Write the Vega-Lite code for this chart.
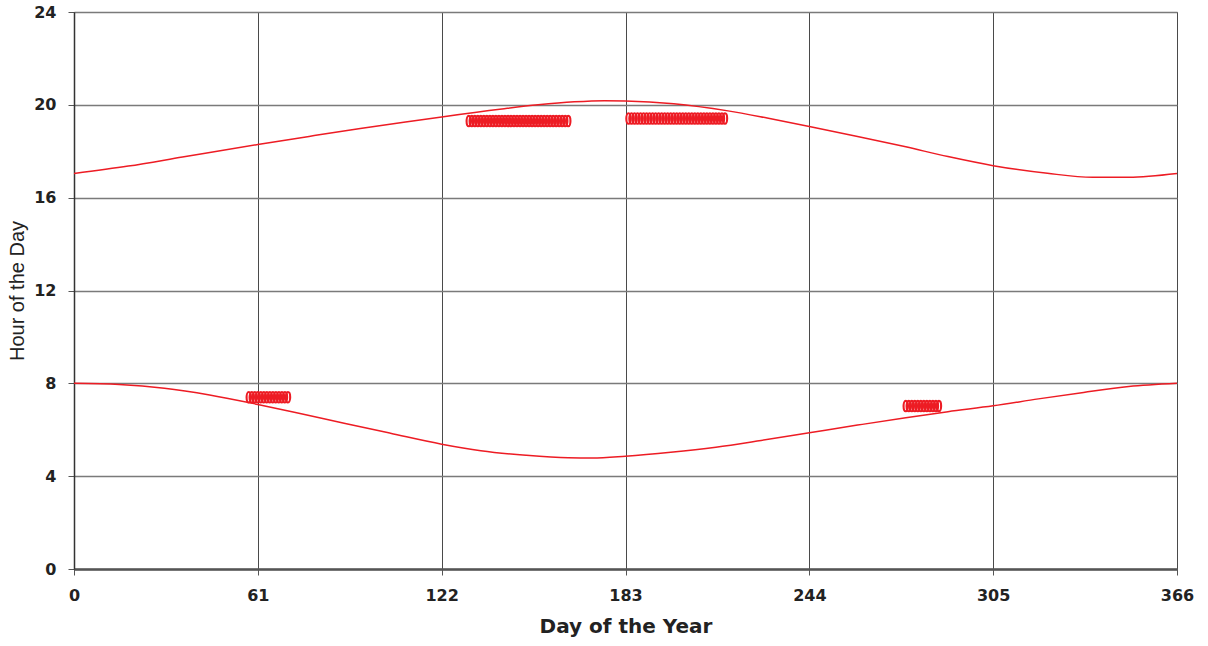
{
  "$schema": "https://vega.github.io/schema/vega-lite/v6.json",
  "width": 1103,
  "height": 557,
  "autosize": {"type": "none"},
  "padding": {"left": 74, "top": 12, "right": 31, "bottom": 77},
  "background": "white",
  "config": {
    "view": {"stroke": "#6a6a6a", "strokeWidth": 1},
    "font": "DejaVu Sans"
  },
  "datasets": {
    "curves": [
      {"series": "rise", "day": 0, "hour": 8.0},
      {"series": "rise", "day": 15, "hour": 7.95},
      {"series": "rise", "day": 30, "hour": 7.79},
      {"series": "rise", "day": 45, "hour": 7.5},
      {"series": "rise", "day": 61, "hour": 7.09},
      {"series": "rise", "day": 75, "hour": 6.7},
      {"series": "rise", "day": 90, "hour": 6.27},
      {"series": "rise", "day": 105, "hour": 5.85},
      {"series": "rise", "day": 122, "hour": 5.38},
      {"series": "rise", "day": 135, "hour": 5.1},
      {"series": "rise", "day": 150, "hour": 4.9},
      {"series": "rise", "day": 164, "hour": 4.79},
      {"series": "rise", "day": 172, "hour": 4.78},
      {"series": "rise", "day": 183, "hour": 4.86},
      {"series": "rise", "day": 198, "hour": 5.03},
      {"series": "rise", "day": 213, "hour": 5.25},
      {"series": "rise", "day": 228, "hour": 5.54},
      {"series": "rise", "day": 244, "hour": 5.87},
      {"series": "rise", "day": 260, "hour": 6.2},
      {"series": "rise", "day": 276, "hour": 6.52},
      {"series": "rise", "day": 290, "hour": 6.78},
      {"series": "rise", "day": 305, "hour": 7.03},
      {"series": "rise", "day": 320, "hour": 7.33},
      {"series": "rise", "day": 335, "hour": 7.61},
      {"series": "rise", "day": 350, "hour": 7.86},
      {"series": "rise", "day": 366, "hour": 8.0},
      {"series": "set", "day": 0, "hour": 17.04},
      {"series": "set", "day": 18, "hour": 17.36},
      {"series": "set", "day": 36, "hour": 17.75},
      {"series": "set", "day": 61, "hour": 18.29},
      {"series": "set", "day": 78, "hour": 18.64},
      {"series": "set", "day": 95, "hour": 18.98},
      {"series": "set", "day": 110, "hour": 19.26},
      {"series": "set", "day": 122, "hour": 19.48},
      {"series": "set", "day": 142, "hour": 19.82},
      {"series": "set", "day": 154, "hour": 20.0},
      {"series": "set", "day": 166, "hour": 20.13},
      {"series": "set", "day": 176, "hour": 20.18},
      {"series": "set", "day": 183, "hour": 20.17},
      {"series": "set", "day": 199, "hour": 20.05},
      {"series": "set", "day": 217, "hour": 19.74},
      {"series": "set", "day": 230, "hour": 19.43},
      {"series": "set", "day": 244, "hour": 19.07},
      {"series": "set", "day": 260, "hour": 18.64},
      {"series": "set", "day": 276, "hour": 18.19},
      {"series": "set", "day": 290, "hour": 17.77},
      {"series": "set", "day": 305, "hour": 17.38},
      {"series": "set", "day": 323, "hour": 17.05},
      {"series": "set", "day": 338, "hour": 16.88},
      {"series": "set", "day": 350, "hour": 16.88},
      {"series": "set", "day": 366, "hour": 17.04}
    ],
    "clusters": [
      {"group": "a", "day": 58, "hour": 7.4}, {"group": "a", "day": 59, "hour": 7.4}, {"group": "a", "day": 60, "hour": 7.4}, {"group": "a", "day": 61, "hour": 7.4}, {"group": "a", "day": 62, "hour": 7.4}, {"group": "a", "day": 63, "hour": 7.4}, {"group": "a", "day": 64, "hour": 7.4}, {"group": "a", "day": 65, "hour": 7.4}, {"group": "a", "day": 66, "hour": 7.4}, {"group": "a", "day": 67, "hour": 7.4}, {"group": "a", "day": 68, "hour": 7.4}, {"group": "a", "day": 69, "hour": 7.4}, {"group": "a", "day": 70, "hour": 7.4}, {"group": "a", "day": 71, "hour": 7.4},
      {"group": "b", "day": 131, "hour": 19.3}, {"group": "b", "day": 132, "hour": 19.3}, {"group": "b", "day": 133, "hour": 19.3}, {"group": "b", "day": 134, "hour": 19.3}, {"group": "b", "day": 135, "hour": 19.3}, {"group": "b", "day": 136, "hour": 19.3}, {"group": "b", "day": 137, "hour": 19.3}, {"group": "b", "day": 138, "hour": 19.3}, {"group": "b", "day": 139, "hour": 19.3}, {"group": "b", "day": 140, "hour": 19.3}, {"group": "b", "day": 141, "hour": 19.3}, {"group": "b", "day": 142, "hour": 19.3}, {"group": "b", "day": 143, "hour": 19.3}, {"group": "b", "day": 144, "hour": 19.3}, {"group": "b", "day": 145, "hour": 19.3}, {"group": "b", "day": 146, "hour": 19.3}, {"group": "b", "day": 147, "hour": 19.3}, {"group": "b", "day": 148, "hour": 19.3}, {"group": "b", "day": 149, "hour": 19.3}, {"group": "b", "day": 150, "hour": 19.3}, {"group": "b", "day": 151, "hour": 19.3}, {"group": "b", "day": 152, "hour": 19.3}, {"group": "b", "day": 153, "hour": 19.3}, {"group": "b", "day": 154, "hour": 19.3}, {"group": "b", "day": 155, "hour": 19.3}, {"group": "b", "day": 156, "hour": 19.3}, {"group": "b", "day": 157, "hour": 19.3}, {"group": "b", "day": 158, "hour": 19.3}, {"group": "b", "day": 159, "hour": 19.3}, {"group": "b", "day": 160, "hour": 19.3}, {"group": "b", "day": 161, "hour": 19.3}, {"group": "b", "day": 162, "hour": 19.3}, {"group": "b", "day": 163, "hour": 19.3}, {"group": "b", "day": 164, "hour": 19.3},
      {"group": "c", "day": 184, "hour": 19.41}, {"group": "c", "day": 185, "hour": 19.41}, {"group": "c", "day": 186, "hour": 19.41}, {"group": "c", "day": 187, "hour": 19.41}, {"group": "c", "day": 188, "hour": 19.41}, {"group": "c", "day": 189, "hour": 19.41}, {"group": "c", "day": 190, "hour": 19.41}, {"group": "c", "day": 191, "hour": 19.41}, {"group": "c", "day": 192, "hour": 19.41}, {"group": "c", "day": 193, "hour": 19.41}, {"group": "c", "day": 194, "hour": 19.41}, {"group": "c", "day": 195, "hour": 19.41}, {"group": "c", "day": 196, "hour": 19.41}, {"group": "c", "day": 197, "hour": 19.41}, {"group": "c", "day": 198, "hour": 19.41}, {"group": "c", "day": 199, "hour": 19.41}, {"group": "c", "day": 200, "hour": 19.41}, {"group": "c", "day": 201, "hour": 19.41}, {"group": "c", "day": 202, "hour": 19.41}, {"group": "c", "day": 203, "hour": 19.41}, {"group": "c", "day": 204, "hour": 19.41}, {"group": "c", "day": 205, "hour": 19.41}, {"group": "c", "day": 206, "hour": 19.41}, {"group": "c", "day": 207, "hour": 19.41}, {"group": "c", "day": 208, "hour": 19.41}, {"group": "c", "day": 209, "hour": 19.41}, {"group": "c", "day": 210, "hour": 19.41}, {"group": "c", "day": 211, "hour": 19.41}, {"group": "c", "day": 212, "hour": 19.41}, {"group": "c", "day": 213, "hour": 19.41}, {"group": "c", "day": 214, "hour": 19.41}, {"group": "c", "day": 215, "hour": 19.41}, {"group": "c", "day": 216, "hour": 19.41},
      {"group": "d", "day": 276, "hour": 7.02}, {"group": "d", "day": 277, "hour": 7.02}, {"group": "d", "day": 278, "hour": 7.02}, {"group": "d", "day": 279, "hour": 7.02}, {"group": "d", "day": 280, "hour": 7.02}, {"group": "d", "day": 281, "hour": 7.02}, {"group": "d", "day": 282, "hour": 7.02}, {"group": "d", "day": 283, "hour": 7.02}, {"group": "d", "day": 284, "hour": 7.02}, {"group": "d", "day": 285, "hour": 7.02}, {"group": "d", "day": 286, "hour": 7.02}, {"group": "d", "day": 287, "hour": 7.02}
    ]
  },
  "layer": [
    {
      "data": {"name": "curves"},
      "mark": {"type": "line", "color": "#ed1c24", "strokeWidth": 1.5, "interpolate": "monotone"},
      "encoding": {
        "x": {
          "field": "day", "type": "quantitative",
          "scale": {"domain": [0, 366], "nice": false, "zero": false},
          "axis": {
            "title": "Day of the Year",
            "values": [0, 61, 122, 183, 244, 305, 366],
            "grid": true, "gridColor": "#4a4a4a", "gridWidth": 1, "gridOpacity": 1,
            "domainColor": "#555555", "domainWidth": 2.5,
            "tickColor": "#555555", "tickSize": 6, "tickWidth": 1,
            "labelFont": "DejaVu Sans", "labelFontSize": 16, "labelFontWeight": "bold", "labelColor": "#222222",
            "labelPadding": 12, "labelFlush": false,
            "titleFont": "DejaVu Sans", "titleFontSize": 20, "titleFontWeight": "bold", "titleColor": "#222222",
            "titlePadding": 13
          }
        },
        "y": {
          "field": "hour", "type": "quantitative",
          "scale": {"domain": [0, 24], "nice": false, "zero": true},
          "axis": {
            "title": "Hour of the Day",
            "values": [0, 4, 8, 12, 16, 20, 24],
            "grid": true, "gridColor": "#7a7a7a", "gridWidth": 1.3, "gridOpacity": 1,
            "domainColor": "#333333", "domainWidth": 1.5,
            "tickColor": "#555555", "tickSize": 6, "tickWidth": 1,
            "labelFont": "DejaVu Sans", "labelFontSize": 16, "labelFontWeight": "bold", "labelColor": "#222222",
            "labelPadding": 12, "labelFlush": false,
            "titleFont": "Liberation Sans", "titleFontSize": 20, "titleFontWeight": "normal", "titleColor": "#222222",
            "titlePadding": 6
          }
        },
        "detail": {"field": "series"}
      }
    },
    {
      "data": {"name": "clusters"},
      "mark": {
        "type": "point",
        "shape": "M0,-1A0.42,1 0 1,1 0,1A0.42,1 0 1,1 0,-1Z",
        "filled": false,
        "color": "#ed1c24",
        "strokeWidth": 2.1,
        "opacity": 1,
        "size": 110
      },
      "encoding": {
        "x": {"field": "day", "type": "quantitative"},
        "y": {"field": "hour", "type": "quantitative"},
        "detail": {"field": "group"}
      }
    }
  ]
}
